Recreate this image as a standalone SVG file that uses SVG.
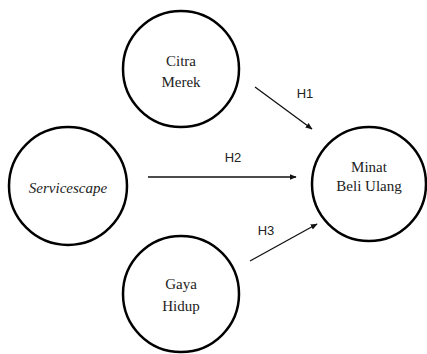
<svg xmlns="http://www.w3.org/2000/svg" width="427" height="354" viewBox="0 0 427 354">
<style>
.node circle{fill:#fff;stroke:#000;stroke-width:2.5}
.t{font-family:'Liberation Serif','DejaVu Serif',serif;font-size:15px;fill:#222;text-anchor:middle}
.i{font-style:italic}
.lbl{font-family:'Liberation Sans',Arial,sans-serif;font-size:13px;fill:#222;text-anchor:middle}
.edge{stroke:#111;stroke-width:1.3;fill:none;marker-end:url(#ah)}
</style>
<defs>
<marker id="ah" viewBox="0 0 10 10" refX="9" refY="5" markerWidth="7" markerHeight="7" markerUnits="userSpaceOnUse" orient="auto">
<path d="M0,1 L10,5 L0,9 z" fill="#111"/>
</marker>
</defs>
<rect width="427" height="354" fill="#fff"/>
<g id="citra" class="node"><circle cx="181" cy="69" r="58"/><text class="t" x="181" y="66">Citra</text><text class="t" x="181" y="87">Merek</text></g>
<g id="servicescape" class="node"><circle cx="68" cy="186" r="59"/><text class="t i" x="68" y="193">Servicescape</text></g>
<g id="minat" class="node"><circle cx="369" cy="184" r="57"/><text class="t" x="369" y="172">Minat</text><text class="t" x="369" y="191">Beli Ulang</text></g>
<g id="gaya" class="node"><circle cx="181" cy="294" r="58"/><text class="t" x="181" y="289">Gaya</text><text class="t" x="181" y="311">Hidup</text></g>
<g id="connectors">
<line class="edge" x1="255" y1="87" x2="312" y2="129"/>
<line class="edge" x1="148" y1="177" x2="296" y2="177"/>
<line class="edge" x1="250" y1="261" x2="317" y2="224"/>
<text class="lbl" x="305" y="98">H1</text>
<text class="lbl" x="233" y="162">H2</text>
<text class="lbl" x="266" y="235">H3</text>
</g>
</svg>
